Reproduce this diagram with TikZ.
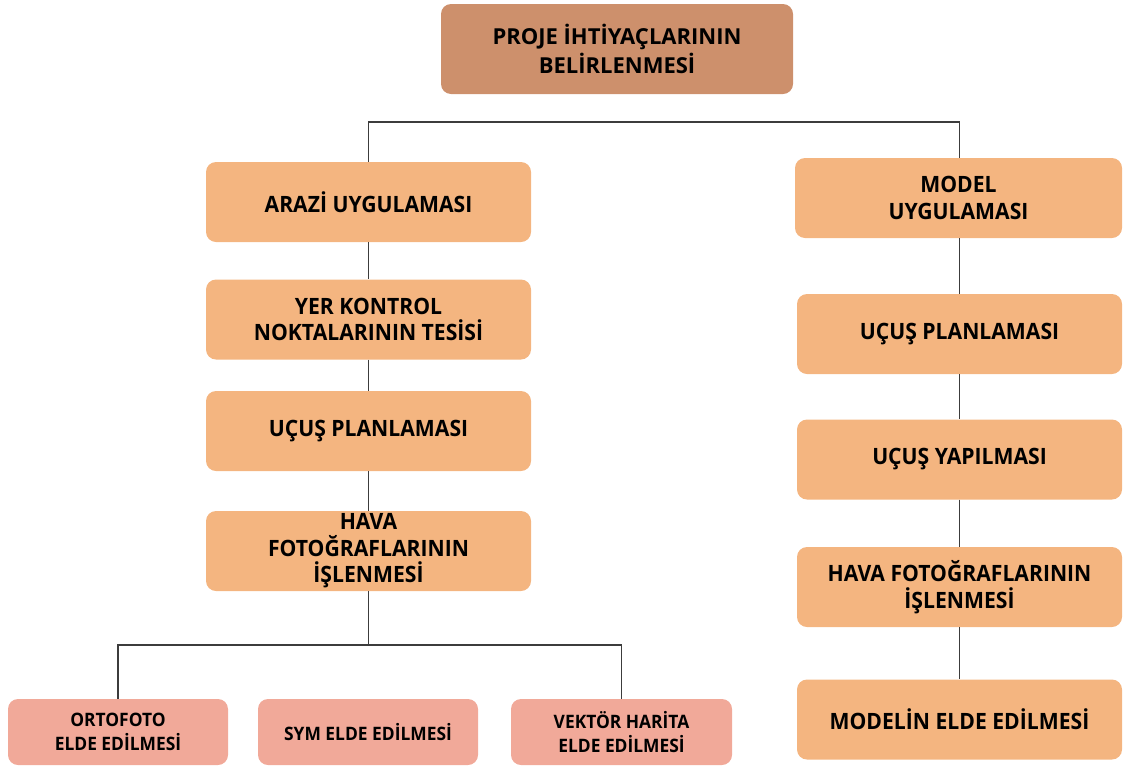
\documentclass[tikz,border=0pt]{standalone}
\usepackage{fontspec}
\setmainfont{Open Sans}
\newfontfamily\narrowfont[FakeStretch=0.94]{Open Sans}
\definecolor{topfill}{RGB}{205,144,108}
\definecolor{midfill}{RGB}{244,181,128}
\definecolor{lowfill}{RGB}{241,169,153}
\definecolor{linec}{RGB}{60,60,60}
\begin{document}
\begin{tikzpicture}[x=1pt,y=-1pt,
  basebox/.style={rounded corners=10pt, draw=none, align=center, inner sep=0pt, text=black},
  topbox/.style={basebox, fill=topfill, minimum width=352pt, minimum height=90pt, font=\bfseries\fontsize{22}{29}\selectfont},
  midbox/.style={basebox, fill=midfill, minimum width=326pt, minimum height=80pt, font=\narrowfont\bfseries\fontsize{22.5}{26.5}\selectfont},
  lowbox/.style={basebox, fill=lowfill, minimum width=221pt, minimum height=66pt, font=\narrowfont\bfseries\fontsize{18.5}{24}\selectfont},
  conn/.style={draw=linec, line width=1.4pt}
]
\useasboundingbox (0,0) rectangle (1123,769);

\node[topbox] (proje) at (617,49) {PROJE İHTİYAÇLARININ\\BELİRLENMESİ};

% left column
\node[midbox, minimum width=325pt] (arazi) at (368.5,202) {ARAZİ UYGULAMASI};
\node[midbox, minimum width=325pt] (yer) at (368.5,319.5) {YER KONTROL\\NOKTALARININ TESİSİ};
\node[midbox, minimum width=325pt] (ucusL) at (368.5,431) {UÇUŞ PLANLAMASI};
\node[midbox, minimum width=325pt] (havaL) at (368.5,551) {HAVA\\FOTOĞRAFLARININ\\İŞLENMESİ};

% bottom row
\node[lowbox, minimum width=220pt] (orto) at (118,732) {ORTOFOTO\\ELDE EDİLMESİ};
\node[lowbox, minimum width=220pt] (sym) at (368,732) {SYM ELDE EDİLMESİ};
\node[lowbox, minimum width=221pt] (vektor) at (621.5,732) {VEKTÖR HARİTA\\ELDE EDİLMESİ};

% right column
\node[midbox, minimum width=327pt] (model) at (958.5,198) {MODEL\\UYGULAMASI};
\node[midbox, minimum width=325pt] (ucusR) at (959.5,334) {UÇUŞ PLANLAMASI};
\node[midbox, minimum width=325pt] (yapil) at (959.5,459.5) {UÇUŞ YAPILMASI};
\node[midbox, minimum width=325pt] (havaR) at (959.5,587) {HAVA FOTOĞRAFLARININ\\İŞLENMESİ};
\node[midbox, minimum width=325pt] (modelin) at (959.5,719.5) {MODELİN ELDE EDİLMESİ};

% top bar
\coordinate (barL) at (368.5,122);
\coordinate (barR) at (959.5,122);
\draw[conn] (arazi.north) -- (barL) -- (barR) -- (model.north -| barR);

% left chain
\draw[conn] (arazi.south) -- (yer.north);
\draw[conn] (yer.south) -- (ucusL.north);
\draw[conn] (ucusL.south) -- (havaL.north);

% bottom branch
\coordinate (bbL) at (118,645);
\coordinate (bbR) at (621.5,645);
\draw[conn] (havaL.south) -- (havaL.south |- bbL);
\draw[conn] (orto.north) -- (bbL) -- (bbR) -- (vektor.north);

% right chain
\draw[conn] (model.south -| barR) -- (ucusR.north);
\draw[conn] (ucusR.south) -- (yapil.north);
\draw[conn] (yapil.south) -- (havaR.north);
\draw[conn] (havaR.south) -- (modelin.north);
\end{tikzpicture}
\end{document}
